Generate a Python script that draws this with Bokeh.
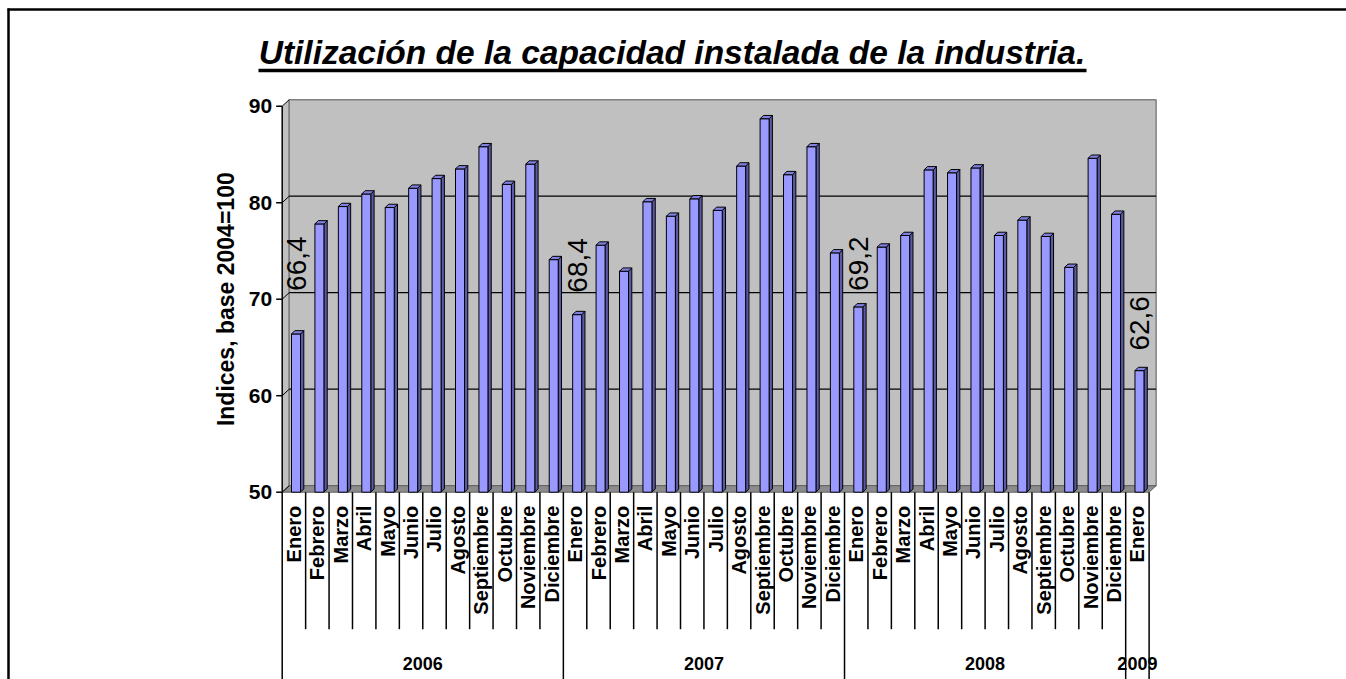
import math
import numpy as np
from bokeh.plotting import figure
from bokeh.models import Range1d
from bokeh.embed import file_html
from bokeh.resources import INLINE
from bokeh.core.properties import value

# ---------------- data ----------------
years = ["2006", "2007", "2008", "2009"]
months = ["Enero", "Febrero", "Marzo", "Abril", "Mayo", "Junio", "Julio",
          "Agosto", "Septiembre", "Octubre", "Noviembre", "Diciembre"]
values_2006 = [66.4, 77.8, 79.6, 80.9, 79.5, 81.5, 82.5, 83.5, 85.8, 81.9, 84.0, 74.1]
values_2007 = [68.4, 75.6, 72.9, 80.1, 78.6, 80.4, 79.2, 83.8, 88.7, 82.9, 85.8, 74.8]
values_2008 = [69.2, 75.4, 76.6, 83.4, 83.1, 83.6, 76.6, 78.2, 76.5, 73.3, 84.6, 78.8]
values_2009 = [62.6]
y_ticks = [50, 60, 70, 80, 90]
title_text = "Utilización de la capacidad instalada de la industria."
y_label_text = "Indices, base 2004=100"

series = [values_2006, values_2007, values_2008, values_2009]
values = [v for s in series for v in s]
cat_months = [months[k] for s in series for k in range(len(s))]
N = len(values)
idx = np.arange(N)
group_sizes = [len(s) for s in series]
group_starts = [int(v) for v in np.cumsum([0] + group_sizes[:-1])]
group_ends = [int(v) for v in np.cumsum(group_sizes)]
label_idx = group_starts  # every January is labelled
label_txt = [f"{values[i]:.1f}".replace(".", ",") for i in label_idx]

# ---------------- layout / style ----------------
FIG_W, FIG_H = 1346, 679
CAT_PX = 23.43       # pixel width of one category
X0_PX = 281.7        # pixel x of the value axis
Y50_PX = 491.7       # pixel y of the axis minimum
PX_PER_UNIT = 9.65   # pixels per index point


def ux(px):
    return px / CAT_PX


def uy(px):
    return px / PX_PER_UNIT


YMIN, YMAX = y_ticks[0], y_ticks[-1]
x_range = Range1d(-X0_PX / CAT_PX, (FIG_W - X0_PX) / CAT_PX)
y_range = Range1d(YMIN - (FIG_H - Y50_PX) / PX_PER_UNIT, YMIN + Y50_PX / PX_PER_UNIT)
XL, YT = x_range.start, y_range.end

ARIAL = "Liberation Sans"

p = figure(width=FIG_W, height=FIG_H, x_range=x_range, y_range=y_range,
           x_axis_location=None, y_axis_location=None, toolbar_location=None,
           output_backend="svg", title=None, min_border=0)
p.outline_line_color = None
p.background_fill_color = "white"
p.border_fill_color = "white"
p.xgrid.visible = False
p.ygrid.visible = False

# outer frame (top and left)
p.segment(x0=[XL + ux(7)], x1=[x_range.end], y0=[YT - uy(9)], y1=[YT - uy(9)],
          line_color="black", line_width=2.5)
p.segment(x0=[XL + ux(8)], x1=[XL + ux(8)], y0=[y_range.start], y1=[YT - uy(8)],
          line_color="black", line_width=2.5)

# 3D walls
DX, DY = ux(7), uy(6.5)
p.patch([0, DX, DX, 0], [YMIN, YMIN + DY, YMAX + DY, YMAX],
        fill_color="#C0C0C0", line_color=None)
p.quad(left=[DX], right=[N + DX], bottom=[YMIN + DY], top=[YMAX + DY],
       fill_color="#C0C0C0", line_color="#808080", line_width=1.5)
p.segment(x0=[DX], x1=[DX], y0=[YMIN + DY], y1=[YMAX + DY], line_color="#808080", line_width=1.5)
p.patch([0, N, N + DX, DX], [YMIN, YMIN, YMIN + DY, YMIN + DY],
        fill_color="#8c8c8c", line_color="#606060", line_width=1)
grid_vals = y_ticks[1:-1]
p.segment(x0=[DX] * len(grid_vals), x1=[N + DX] * len(grid_vals),
          y0=[g + DY for g in grid_vals], y1=[g + DY for g in grid_vals],
          line_color="black", line_width=1.3)
p.segment(x0=[0] * len(y_ticks), x1=[DX] * len(y_ticks),
          y0=y_ticks, y1=[t + DY for t in y_ticks], line_color="black", line_width=1)

# bars
L = idx + ux(9.3)
R = idx + ux(18.3)
bd, bdy = ux(3.3), uy(3.3)
side_xs = [[r, r + bd, r + bd, r] for r in R]
side_ys = [[YMIN, YMIN + bdy, v + bdy, v] for v in values]
top_xs = [[l, r, r + bd, l + bd] for l, r in zip(L, R)]
top_ys = [[v, v, v + bdy, v + bdy] for v in values]
p.patches(side_xs, side_ys, fill_color="#5a5aa6", line_color="black", line_width=1)
p.quad(left=L, right=R, bottom=[YMIN] * N, top=values,
       fill_color="#9999FF", line_color="black", line_width=1)
p.patches(top_xs, top_ys, fill_color="#8080e0", line_color="black", line_width=1)

# value axis
p.segment(x0=[0], x1=[0], y0=[YMIN], y1=[YMAX], line_color="black", line_width=1.5)
p.segment(x0=[-ux(6)] * len(y_ticks), x1=[0] * len(y_ticks), y0=y_ticks, y1=y_ticks,
          line_color="black", line_width=1.5)
p.text(x=[-ux(10)] * len(y_ticks), y=y_ticks, text=[str(t) for t in y_ticks],
       text_align="right", text_baseline="middle", text_font=value(ARIAL),
       text_font_style="bold", text_font_size="21px", text_color="black")
p.text(x=[-ux(56)], y=[(YMIN + YMAX) / 2], text=[y_label_text], angle=math.pi / 2,
       text_align="center", text_baseline="middle", text_font=value(ARIAL),
       text_font_style="bold", text_font_size="23px", text_color="black")

# category axis: months and years
p.text(x=idx + 0.5, y=[YMIN - uy(13.5)] * N, text=cat_months, angle=math.pi / 2,
       text_align="right", text_baseline="middle", text_font=value(ARIAL),
       text_font_style="bold", text_font_size="20px", text_color="black")
year_bounds = sorted(set(group_starts + group_ends))
month_bounds = [k for k in range(1, N) if k not in year_bounds]
p.segment(x0=month_bounds, x1=month_bounds, y0=[YMIN] * len(month_bounds),
          y1=[YMIN - uy(137)] * len(month_bounds), line_color="black", line_width=1.5)
p.segment(x0=year_bounds, x1=year_bounds, y0=[YMIN] * len(year_bounds),
          y1=[y_range.start] * len(year_bounds), line_color="black", line_width=1.5)
p.text(x=[(a + b) / 2 for a, b in zip(group_starts, group_ends)],
       y=[YMIN - uy(171.5)] * len(years), text=years, text_align="center",
       text_baseline="middle", text_font=value(ARIAL), text_font_style="bold",
       text_font_size="18px", text_color="black")

# data labels
label_gap_px = [43, 22, 16, 20]
p.text(x=[i + ux(13.8) for i in label_idx],
       y=[values[i] + uy(g) for i, g in zip(label_idx, label_gap_px)],
       text=label_txt, angle=math.pi / 2, text_align="left", text_baseline="middle",
       text_font=value(ARIAL), text_font_size="28px", text_color="black")

# title with underline
p.text(x=[XL + ux(671.5)], y=[YT - uy(52)], text=[title_text],
       text_align="center", text_baseline="middle", text_font=value(ARIAL),
       text_font_style="bold italic", text_font_size="33.5px", text_color="black")
p.segment(x0=[XL + ux(258)], x1=[XL + ux(1086)],
          y0=[YT - uy(70)], y1=[YT - uy(70)],
          line_color="black", line_width=3.5)

open("out.html", "w").write(file_html(p, INLINE))
